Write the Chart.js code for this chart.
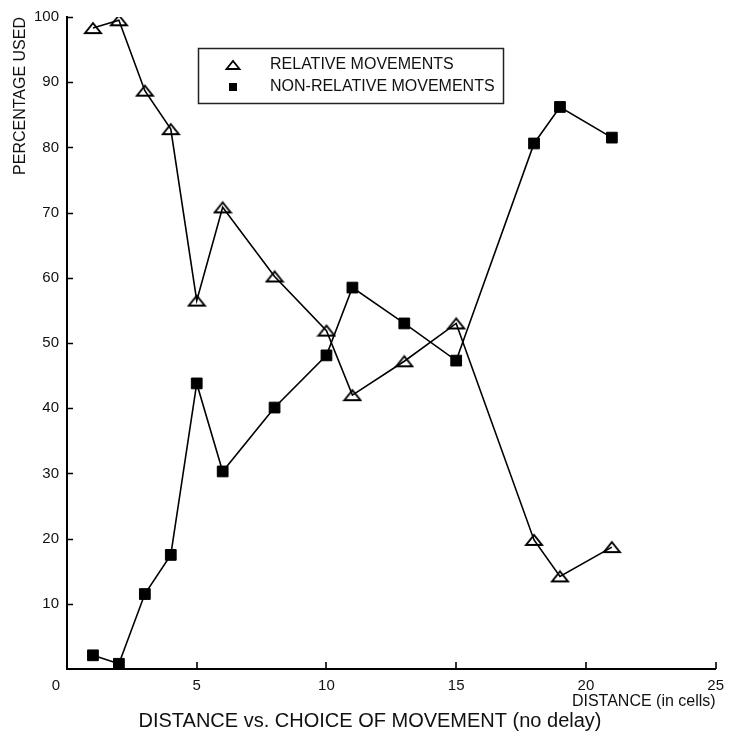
<!DOCTYPE html>
<html>
<head>
<meta charset="utf-8">
<script src="https://cdn.jsdelivr.net/npm/chart.js@4.4.1/dist/chart.umd.min.js"></script>
<style>
  html, body { margin: 0; padding: 0; background: #fff; }
  canvas { display: block; }
</style>
</head>
<body>
<canvas id="c" width="732" height="736"></canvas>
<script>
// Distance in cells at which each movement type was measured
const distance = [1, 2, 3, 4, 5, 6, 8, 10, 11, 13, 15, 18, 19, 21];
// Percentage of trials using relative movements
const relative = [98.3, 99.5, 88.7, 82.8, 56.5, 70.8, 60.2, 51.9, 42.0, 47.2, 53.0, 19.8, 14.2, 18.7];
// Percentage of trials using non-relative movements
const nonRelative = [2.1, 0.8, 11.5, 17.5, 43.8, 30.3, 40.1, 48.1, 58.5, 53.0, 47.3, 80.6, 86.2, 81.5];

const seriesLabels = ['RELATIVE MOVEMENTS', 'NON-RELATIVE MOVEMENTS'];
const xTicks = [5, 10, 15, 20, 25];
const yTicks = [10, 20, 30, 40, 50, 60, 70, 80, 90, 100];

const FONT = '"Liberation Sans", Arial, Helvetica, sans-serif';
const INK = '#111';

// Hollow, slightly flattened triangle marker
function makeTriangle(w, h, lw) {
  const cv = document.createElement('canvas');
  cv.width = w + 2; cv.height = h + 2;
  const g = cv.getContext('2d');
  g.strokeStyle = '#000';
  g.lineWidth = lw;
  g.lineJoin = 'miter';
  g.beginPath();
  g.moveTo(1 + lw / 2, h + 1 - lw / 2);
  g.lineTo((w + 2) / 2, 1 + lw / 2);
  g.lineTo(w + 1 - lw / 2, h + 1 - lw / 2);
  g.closePath();
  g.stroke();
  return cv;
}
const triangleMarker = makeTriangle(18, 12, 2);

const toPoints = (ys) => distance.map((d, i) => ({ x: d, y: ys[i] }));

// Inward tick marks, the stray origin label and the boxed legend
const decorations = {
  id: 'decorations',
  afterDraw(chart) {
    const { ctx, scales: { x, y } } = chart;
    const x0 = x.getPixelForValue(0);
    const y0 = y.getPixelForValue(0);
    ctx.save();
    ctx.strokeStyle = '#000';
    ctx.lineWidth = 1.6;
    ctx.beginPath();
    yTicks.forEach(v => {
      const py = Math.round(y.getPixelForValue(v)) + 0.5;
      ctx.moveTo(x0, py);
      ctx.lineTo(x0 + 6, py);
    });
    xTicks.forEach(v => {
      const px = Math.round(x.getPixelForValue(v));
      ctx.moveTo(px, y0);
      ctx.lineTo(px, y0 - 7);
    });
    ctx.stroke();

    // origin label, set off to the lower left of the corner
    ctx.fillStyle = INK;
    ctx.font = '15px ' + FONT;
    ctx.textAlign = 'right';
    ctx.textBaseline = 'middle';
    ctx.fillText('0', x0 - 7, y0 + 17);

    // legend box
    const bx = 198, by = 48, bw = 305, bh = 55;
    ctx.strokeStyle = '#222';
    ctx.lineWidth = 1.5;
    ctx.strokeRect(bx + 0.5, by + 0.5, bw, bh);

    // legend markers
    const mx = 233;
    ctx.strokeStyle = '#000';
    ctx.lineWidth = 1.8;
    ctx.beginPath();
    ctx.moveTo(mx - 6.5, 69);
    ctx.lineTo(mx, 61);
    ctx.lineTo(mx + 6.5, 69);
    ctx.closePath();
    ctx.stroke();
    ctx.fillStyle = '#000';
    ctx.fillRect(mx - 4, 83, 8, 8);

    ctx.fillStyle = INK;
    ctx.font = '16px ' + FONT;
    ctx.textAlign = 'left';
    ctx.textBaseline = 'middle';
    ctx.fillText(chart.data.datasets[0].label, 270, 65);
    ctx.fillText(chart.data.datasets[1].label, 270, 87);
    ctx.restore();
  }
};

new Chart(document.getElementById('c'), {
  type: 'line',
  data: {
    datasets: [
      {
        label: seriesLabels[0],
        data: toPoints(relative),
        borderColor: '#000',
        borderWidth: 1.6,
        pointStyle: triangleMarker,
        pointRadius: 9,
        pointBackgroundColor: 'rgba(0,0,0,0)',
        pointBorderColor: '#000',
        tension: 0,
        fill: false
      },
      {
        label: seriesLabels[1],
        data: toPoints(nonRelative),
        borderColor: '#000',
        borderWidth: 1.6,
        pointStyle: 'rect',
        pointRadius: 7.6,
        pointBackgroundColor: '#000',
        pointBorderColor: '#000',
        pointBorderWidth: 1,
        tension: 0,
        fill: false
      }
    ]
  },
  options: {
    responsive: false,
    animation: false,
    layout: { padding: { top: 16, right: 11, left: 19, bottom: 0 } },
    plugins: {
      legend: { display: false },
      tooltip: { enabled: false },
      title: {
        display: true,
        position: 'bottom',
        text: 'DISTANCE vs. CHOICE OF MOVEMENT (no delay)',
        color: INK,
        font: { family: FONT, size: 20, weight: 'normal', lineHeight: 1 },
        padding: { top: 0, bottom: 5 }
      }
    },
    scales: {
      x: {
        type: 'linear',
        min: 0,
        max: 25,
        afterFit: (s) => { s.height = 42; },
        ticks: {
          stepSize: 5,
          autoSkip: false,
          maxRotation: 0,
          padding: 8,
          color: INK,
          font: { family: FONT, size: 15 },
          callback: (v) => (v === 0 ? '' : v)
        },
        grid: { display: false, drawTicks: false },
        border: { display: true, width: 2, color: '#000' },
        title: {
          display: true,
          text: 'DISTANCE (in cells)',
          align: 'end',
          color: INK,
          font: { family: FONT, size: 16 },
          padding: { top: 0, bottom: 0 }
        }
      },
      y: {
        type: 'linear',
        min: 0,
        max: 100,
        afterFit: (s) => { s.width = 48; },
        ticks: {
          stepSize: 10,
          padding: 8,
          color: INK,
          font: { family: FONT, size: 15 },
          callback: (v) => (v === 0 ? '' : v)
        },
        grid: { display: false, drawTicks: false },
        border: { display: true, width: 2, color: '#000' },
        title: {
          display: true,
          text: 'PERCENTAGE USED',
          align: 'end',
          color: INK,
          font: { family: FONT, size: 16 },
          padding: { top: -7.6, bottom: 0 }
        }
      }
    }
  },
  plugins: [decorations]
});
</script>
</body>
</html>
